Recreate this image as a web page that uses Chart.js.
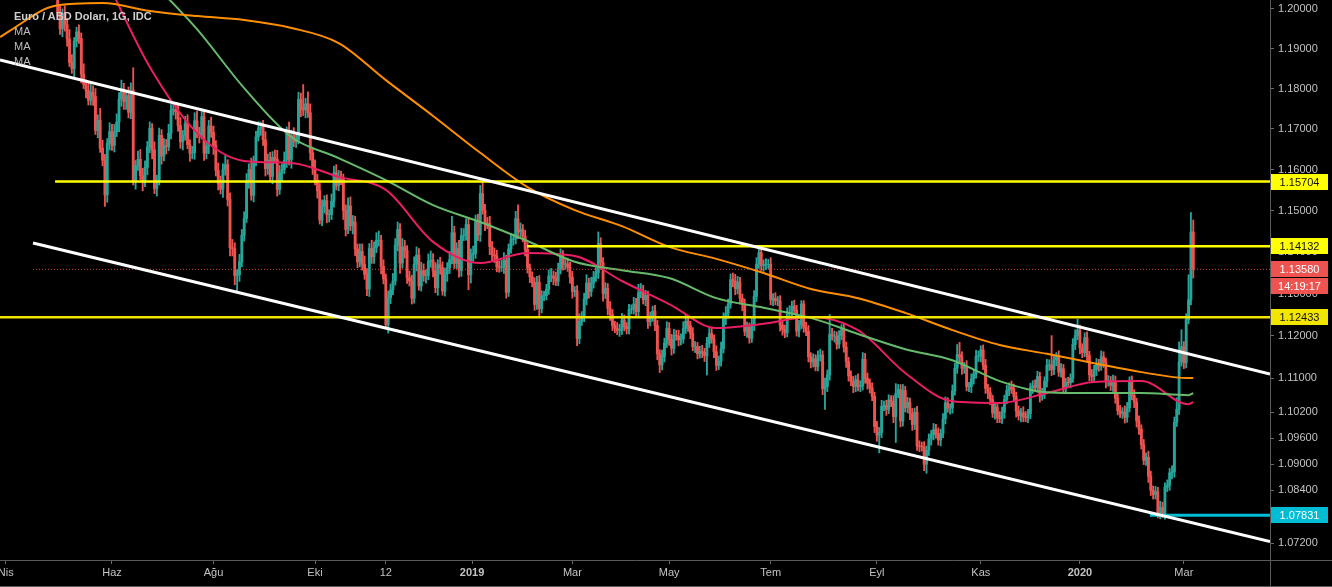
<!DOCTYPE html>
<html>
<head>
<meta charset="utf-8">
<title>Euro / ABD Doları, 1G</title>
<script src="https://cdn.jsdelivr.net/npm/chart.js@4.4.1/dist/chart.umd.min.js"></script>
<style>
  html, body { margin: 0; padding: 0; background: #000; }
  #wrap { position: relative; width: 1332px; height: 587px; }
  #legend { position: absolute; left: 14px; top: 9px; font: bold 11px 'Liberation Sans', Arial, sans-serif; color: #cfcfcf; line-height: 15px; }
  #legend .ma { font-weight: normal; color: #bdbdbd; }
</style>
</head>
<body>
<div id="wrap">
  <canvas id="chart" width="1332" height="587"></canvas>
  <div id="legend">
    <div>Euro / ABD Doları, 1G, IDC</div>
    <div class="ma">MA</div>
    <div class="ma">MA</div>
    <div class="ma">MA</div>
  </div>
</div>
<script>
'use strict';

// daily closes, 2 Apr 2018 .. 10 Mar 2020 (no bars on 25 Dec / 1 Jan)
// an FX daily bar opens at the previous close
var firstOpen = 1.2323;
var closes = [
  1.2302,1.2267,1.2276,1.2237,1.2281,
  1.2320,1.2359,1.2367,1.2326,1.2330,
  1.2381,1.2372,1.2374,1.2348,1.2288,
  1.2211,1.2235,1.2164,1.2101,1.2130,
  1.2079,1.1992,1.1950,1.1988,1.1960,
  1.1924,1.1865,1.1850,1.1918,1.1942,
  1.1925,1.1836,1.1810,1.1795,1.1771,
  1.1791,1.1780,1.1696,1.1721,1.1652,
  1.1623,1.1538,1.1664,1.1693,1.1659,
  1.1693,1.1717,1.1774,1.1799,1.1768,
  1.1782,1.1741,1.1796,1.1570,1.1610,
  1.1625,1.1585,1.1570,1.1605,1.1655,
  1.1701,1.1648,1.1553,1.1572,1.1684,
  1.1633,1.1658,1.1656,1.1689,1.1746,
  1.1748,1.1742,1.1708,1.1668,1.1684,
  1.1713,1.1661,1.1640,1.1641,1.1720,
  1.1690,1.1685,1.1730,1.1640,1.1657,
  1.1707,1.1691,1.1659,1.1598,1.1566,
  1.1552,1.1600,1.1612,1.1527,1.1410,
  1.1408,1.1343,1.1345,1.1376,1.1440,
  1.1481,1.1572,1.1600,1.1537,1.1621,
  1.1680,1.1700,1.1705,1.1673,1.1602,
  1.1622,1.1583,1.1630,1.1625,1.1551,
  1.1592,1.1600,1.1623,1.1689,1.1625,
  1.1683,1.1668,1.1673,1.1773,1.1750,
  1.1747,1.1762,1.1740,1.1641,1.1604,
  1.1574,1.1548,1.1477,1.1510,1.1524,
  1.1490,1.1490,1.1522,1.1592,1.1560,
  1.1580,1.1577,1.1500,1.1454,1.1511,
  1.1463,1.1472,1.1407,1.1376,1.1401,
  1.1370,1.1346,1.1311,1.1408,1.1388,
  1.1410,1.1428,1.1428,1.1365,1.1335,
  1.1226,1.1290,1.1309,1.1330,1.1416,
  1.1454,1.1373,1.1412,1.1403,1.1338,
  1.1330,1.1289,1.1370,1.1392,1.1318,
  1.1355,1.1343,1.1343,1.1377,1.1380,
  1.1354,1.1314,1.1369,1.1362,1.1306,
  1.1347,1.1362,1.1381,1.1446,1.1372,
  1.1408,1.1355,1.1439,1.1440,
  1.1466,1.1345,1.1393,1.1396,
  1.1473,1.1441,1.1541,1.1501,1.1469,
  1.1468,1.1413,1.1393,1.1390,1.1364,
  1.1363,1.1364,1.1380,1.1303,1.1407,
  1.1430,1.1431,1.1480,1.1448,1.1454,
  1.1438,1.1406,1.1361,1.1340,1.1326,
  1.1274,1.1327,1.1264,1.1295,1.1295,
  1.1310,1.1342,1.1342,1.1337,1.1329,
  1.1359,1.1391,1.1370,1.1371,1.1363,
  1.1339,1.1305,1.1307,1.1193,1.1234,
  1.1245,1.1287,1.1325,1.1305,1.1325,
  1.1339,1.1350,1.1420,1.1374,1.1300,
  1.1312,1.1265,1.1250,1.1224,1.1217,
  1.1212,1.1215,1.1237,1.1221,1.1216,
  1.1262,1.1263,1.1275,1.1257,1.1302,
  1.1306,1.1285,1.1296,1.1233,1.1244,
  1.1258,1.1224,1.1157,1.1131,1.1150,
  1.1182,1.1217,1.1191,1.1170,1.1201,
  1.1199,1.1190,1.1192,1.1217,1.1234,
  1.1224,1.1205,1.1174,1.1174,1.1157,
  1.1163,1.1160,1.1153,1.1182,1.1205,
  1.1192,1.1162,1.1130,1.1140,1.1169,
  1.1240,1.1253,1.1275,1.1333,1.1330,
  1.1311,1.1327,1.1289,1.1275,1.1210,
  1.1220,1.1194,1.1226,1.1293,1.1370,
  1.1398,1.1367,1.1369,1.1370,1.1370,
  1.1285,1.1288,1.1283,1.1283,1.1225,
  1.1215,1.1207,1.1252,1.1255,1.1270,
  1.1260,1.1211,1.1226,1.1275,1.1220,
  1.1210,1.1150,1.1138,1.1145,1.1127,
  1.1152,1.1154,1.1075,1.1080,1.1107,
  1.1203,1.1199,1.1199,1.1180,1.1200,
  1.1214,1.1173,1.1139,1.1105,1.1092,
  1.1080,1.1096,1.1080,1.1082,1.1144,
  1.1100,1.1088,1.1077,1.1057,1.0987,
  1.0967,1.0973,1.1034,1.1036,1.1027,
  1.1049,1.1045,1.1010,1.1064,1.1073,
  1.1000,1.1071,1.1031,1.1043,1.1017,
  1.0992,1.1020,1.0942,1.0941,1.0940,
  1.0900,1.0932,1.0958,1.0968,1.0980,
  1.0970,1.0956,1.0971,1.1005,1.1042,
  1.1030,1.1030,1.1070,1.1123,1.1155,
  1.1150,1.1123,1.1127,1.1080,1.1080,
  1.1098,1.1110,1.1151,1.1152,1.1166,
  1.1130,1.1076,1.1066,1.1050,1.1018,
  1.1032,1.1008,1.1006,1.1020,1.1050,
  1.1071,1.1079,1.1074,1.1057,1.1023,
  1.1012,1.1019,1.1010,1.1008,1.1017,
  1.1078,1.1082,1.1078,1.1104,1.1058,
  1.1064,1.1093,1.1130,1.1131,1.1120,
  1.1143,1.1150,1.1114,1.1122,1.1078,
  1.1090,1.1089,1.1100,1.1179,
  1.1200,1.1213,1.1171,1.1160,
  1.1195,1.1153,1.1108,1.1104,1.1120,
  1.1134,1.1128,1.1150,1.1137,1.1091,
  1.1094,1.1083,1.1093,1.1053,1.1024,
  1.1018,1.1021,1.1009,1.1031,1.1093,
  1.1059,1.1043,1.1000,1.0981,1.0945,
  1.0909,1.0916,1.0872,1.0840,1.0830,
  1.0837,1.0789,1.0801,1.0784,1.0847,
  1.0852,1.0880,1.0882,1.0997,1.1027,
  1.1138,1.1174,1.1136,1.1238,1.1285,
  1.1448,1.1358
];

// wick above / below the body, in pips
var wickUp = [
  18,22,15,20,12, 14,20,16,25,12, 16,22,12,18,24, 28,12,30,16,14,
  22,18,16,12,20, 16,24,20,10,12, 18,14,26,12,20, 24,16,20,14,30,
  20,14,12,22,18, 18,20,16,22,14, 14,22,18,56,12, 20,24,18,16,14,
  16,12,20,14,18, 14,18,16,22,14, 14,16,22,20,12, 18,22,12,16,20,
  24,14,20,16,12, 14,22,16,12,18, 18,14,22,12,16, 20,14,12,18,14,
  16,18,14,28,12, 14,18,12,16,20, 16,20,14,18,22, 18,14,20,16,28,
  14,20,16,18,16, 60,14,30,22,14, 20,14,18,16,12, 14,12,18,16,20,
  18,16,12,14,20, 22,16,14,12,18, 18,20,14,12,20, 14,18,22,12,16,
  12,16,14,18,16, 18,14,20,16,12, 16,14,18,20,16, 20,16,14,18,22,
  16,20,12,18,14, 14,12,20,40,16, 14,20,18,16, 14,16,14,18,
  16,18,20,29,14, 14,18,12,16,14, 14,16,18,12,12, 14,12,18,34,16,
  12,14,16,10,12, 12,14,16,12,10, 12,14,18,12,14, 14,16,12,10,14,
  12,14,10,12,18, 12,14,20,12,14, 14,12,28,14,12, 14,12,16,12,10,
  14,12,16,12,10, 12,10,16,14,20, 18,14,12,10,12, 12,14,12,10,16,
  12,16,14,12,14, 12,14,12,16,14, 12,10,14,12,10, 12,14,10,14,12,
  12,10,14,12,16, 14,16,12,14,16, 16,14,12,10,12, 12,10,16,14,16,
  14,14,12,14,12, 16,12,14,10,12, 12,10,14,16,12, 14,12,10,8,8,
  12,14,10,12,10, 12,14,10,20,12, 47,14,12,10,12, 12,14,12,10,12,
  12,10,14,12,16, 14,12,10,12,10, 12,12,14,10,12, 12,10,14,23,12,
  12,14,10,12,10, 12,10,14,12,10, 12,10,12,10,14, 12,14,10,12,14,
  12,10,14,12,24, 29,12,10,14,10, 12,10,14,12,10, 12,14,10,12,10,
  12,10,14,12,10, 12,10,14,12,10, 12,10,14,12,10, 10,12,14,12,10,
  12,10,14,12,69, 12,10,14,12,10, 10,12,10,14, 14,26,12,10,
  12,14,10,12,10, 12,10,14,12,10, 12,10,14,12,10, 12,10,14,12,10,
  12,14,10,12,10, 12,10,14,12,10, 12,10,14,12,10, 12,10,14,12,27,
  47,40,12,14,60, 47,29
];
var wickDown = [
  15,12,20,14,18, 18,10,22,14,16, 12,15,20,16,10, 10,20,8,24,18,
  12,10,14,20,16, 18,10,12,22,14, 12,22,10,18,12, 12,22,10,18,10,
  14,28,18,16,12, 16,12,24,18,20, 20,14,16,8,18, 12,10,22,12,18,
  14,22,12,18,10, 20,12,18,10,14, 12,18,14,16,20, 12,10,20,14,16,
  12,20,10,18,14, 18,12,22,14,16, 12,20,14,16,20, 18,22,42,16,12,
  14,10,18,12,16, 12,10,16,14,18, 14,12,18,10,16, 12,20,10,18,14,
  22,12,14,10,20, 14,20,12,18,16, 12,18,10,14,16, 20,18,12,14,10,
  12,14,22,16,10, 12,20,16,14,12, 14,12,16,18,16, 16,12,14,18,12,
  10,20,14,12,10, 14,24,12,18,14, 12,14,12,16,10, 12,14,18,10,14,
  14,12,18,16,10, 12,18,14,10,12, 12,16,14,12, 12,36,20,16,
  12,14,16,10,18, 12,20,14,16,12, 12,10,16,14,10, 10,14,12,16,12,
  14,16,12,14,10, 14,12,18,10,12, 10,12,14,16,10, 10,12,14,12,10,
  14,16,12,17,12, 10,12,14,16,12, 12,10,14,16,18, 12,16,14,12,10,
  10,14,12,10,12, 12,10,12,14,10, 12,10,14,16,10, 10,12,14,18,12,
  12,10,14,16,12, 10,14,12,10,12, 14,12,10,14,12, 10,12,14,46,10,
  10,14,12,10,12, 10,14,12,10,14, 14,12,14,16,10, 14,12,10,14,12,
  10,12,14,12,10, 12,14,10,12,14, 14,12,10,12,10, 10,12,14,10,12,
  10,12,14,12,10, 10,12,14,48,12, 12,10,14,12,10, 10,12,14,12,10,
  14,12,10,12,10, 12,14,12,10,14, 14,41,12,10,14, 10,12,14,60,10,
  14,12,10,12,14, 14,12,10,12,10, 15,21,12,14,12, 10,12,14,10,12,
  10,14,12,10,12, 12,14,12,10,12, 14,12,10,12,14, 10,12,14,12,10,
  14,12,10,12,14, 10,12,10,12,14, 10,14,12,10,12, 12,14,10,12,14,
  10,12,14,12,14, 12,14,10,12,14, 12,10,12,10, 12,10,14,12,
  10,12,14,12,10, 14,12,10,12,14, 10,12,14,12,10, 10,12,14,12,10,
  10,12,14,12,10, 10,12,14,12,10, 10,12,14,6,10, 10,12,14,12,10,
  12,10,14,12,10, 12,21
];

var maBars = [-3.4, 0, 20, 40, 60, 80, 100, 120, 140, 160, 180, 200, 220, 240, 260, 280, 300, 320, 340, 360, 380, 400, 420, 440, 460, 480, 500, 502];
var maSlow = [1.1929, 1.1942, 1.2008, 1.2015, 1.1995, 1.1982, 1.1972, 1.1952, 1.1914, 1.1821, 1.1732, 1.1641, 1.1557, 1.1501, 1.1462, 1.1412, 1.1383, 1.1349, 1.1311, 1.1289, 1.1254, 1.1213, 1.1178, 1.1157, 1.1135, 1.1114, 1.1100, 1.1100];
var maMid = [1.2335, 1.2330, 1.2280, 1.2200, 1.2075, 1.1949, 1.1801, 1.1680, 1.1628, 1.1574, 1.1513, 1.1472, 1.1426, 1.1376, 1.1356, 1.1337, 1.1289, 1.1266, 1.1242, 1.1204, 1.1168, 1.1142, 1.1093, 1.1067, 1.1065, 1.1065, 1.1060, 1.1065];
var maFast = [1.2340, 1.2335, 1.2290, 1.2090, 1.1854, 1.1690, 1.1621, 1.1616, 1.1582, 1.1550, 1.1424, 1.1373, 1.1397, 1.1390, 1.1330, 1.1275, 1.1218, 1.1228, 1.1244, 1.1213, 1.1112, 1.1046, 1.1042, 1.1065, 1.1091, 1.1093, 1.1039, 1.1044];

// drawings: channel (bar, price) ends, horizontal levels
var channelTopBars = [-3.43, 534.5];
var channelTopPrices = [1.18714, 1.11095];
var channelBotBars = [10.55, 534.5];
var channelBotPrices = [1.14213, 1.07233];
var levelPrices = [1.15704, 1.14132, 1.12433];
var levelFrom = [19.9, 219.8, -3.43];
var supportPrice = 1.07831;
var supportFrom = 483.6;
var lastPrice = 1.1358;
var countdown = '14:19:17';

// axes
var tickPos = [-1, 44, 87, 130, 160, 196.5, 239, 280, 323, 368, 412, 454, 498];
var tickText = ['Nis', 'Haz', 'Ağu', 'Eki', '12', '2019', 'Mar', 'May', 'Tem', 'Eyl', 'Kas', '2020', 'Mar'];
var priceTicks = [1.2, 1.19, 1.18, 1.17, 1.16, 1.15, 1.14, 1.13, 1.12, 1.11, 1.102, 1.096, 1.09, 1.084, 1.078, 1.072];

var xMin = -3.43, xMax = 534.5;
var yMin = 1.06816, yMax = 1.20228;

var upColor = '#26a69a', downColor = '#ef5350';
var fontFamily = "'Liberation Sans', Arial, sans-serif";

var bodies = [], wicks = [], colors = [];
for (var i = 0; i < closes.length; i++) {
    var o = i === 0 ? firstOpen : closes[i - 1];
    var c = closes[i];
    var hi = Math.max(o, c) + wickUp[i] / 10000;
    var lo = Math.min(o, c) - wickDown[i] / 10000;
    bodies.push({x: i, y: [o, c]});
    wicks.push({x: i, y: [lo, hi]});
    colors.push(c >= o ? upColor : downColor);
}

function pts(xs, ys) {
    return xs.map(function (x, k) { return {x: x, y: ys[k]}; });
}

function line(data, color, width, order, dash) {
    return {
        type: 'line', data: data, borderColor: color, borderWidth: width,
        pointRadius: 0, fill: false, order: order, borderDash: dash || [],
        cubicInterpolationMode: 'monotone'
    };
}

var tags = [
    {v: levelPrices[0], t: '1.15704', bg: '#ffff00', fg: '#111'},
    {v: levelPrices[1], t: '1.14132', bg: '#ffff00', fg: '#111'},
    {v: levelPrices[2], t: '1.12433', bg: '#f2e600', fg: '#111'},
    {v: supportPrice, t: '1.07831', bg: '#00bcd4', fg: '#fff'},
    {v: lastPrice, t: '1.13580', bg: '#ef5350', fg: '#fff'},
    {v: lastPrice, t: countdown, bg: '#ef5350', fg: '#fff', below: true}
];

var priceTags = {
    id: 'priceTags',
    afterDraw: function (chart) {
        var ctx = chart.ctx, ys = chart.scales.y, area = chart.chartArea;
        ctx.save();
        ctx.strokeStyle = '#5a5a5a';
        ctx.lineWidth = 1;
        ctx.beginPath();
        ctx.moveTo(area.right + 0.5, area.bottom);
        ctx.lineTo(area.right + 0.5, chart.height);
        ctx.moveTo(area.right, area.bottom + 0.5);
        ctx.lineTo(chart.width, area.bottom + 0.5);
        ctx.moveTo(0, chart.height - 0.5);
        ctx.lineTo(chart.width, chart.height - 0.5);
        ctx.stroke();

        ctx.font = '11px ' + fontFamily;
        ctx.textAlign = 'center';
        ctx.textBaseline = 'middle';
        tags.forEach(function (tg) {
            var y = Math.round(ys.getPixelForValue(tg.v)) + (tg.below ? 17 : 0);
            ctx.fillStyle = tg.bg;
            ctx.fillRect(area.right + 1, y - 8, 57, 16);
            ctx.fillStyle = tg.fg;
            ctx.fillText(tg.t, area.right + 29.5, y + 1);
        });
        ctx.restore();
    }
};

var datasets = [
    line(pts(channelTopBars, channelTopPrices), '#ffffff', 3, 0),
    line(pts(channelBotBars, channelBotPrices), '#ffffff', 3, 0),
    line(pts([levelFrom[0], xMax], [levelPrices[0], levelPrices[0]]), '#ffff00', 2.5, 0),
    line(pts([levelFrom[1], xMax], [levelPrices[1], levelPrices[1]]), '#ffff00', 2.5, 0),
    line(pts([levelFrom[2], xMax], [levelPrices[2], levelPrices[2]]), '#f2e600', 2.5, 0),
    line(pts([supportFrom, xMax], [supportPrice, supportPrice]), '#00bcd4', 3, 0),
    line(pts([10.55, xMax], [lastPrice, lastPrice]), '#d9463f', 1, 0, [1, 2]),
    line(pts(maBars, maSlow), '#ff8f00', 2, 1),
    line(pts(maBars, maMid), '#66bb6a', 2, 1),
    line(pts(maBars, maFast), '#e91e63', 2, 1),
    {
        type: 'bar', data: bodies, backgroundColor: colors, borderWidth: 0,
        barThickness: 2.2, grouped: false, order: 2
    },
    {
        type: 'bar', data: wicks, backgroundColor: colors, borderWidth: 0,
        barThickness: 1.2, grouped: false, order: 3
    }
];

new Chart(document.getElementById('chart'), {
    type: 'bar',
    data: {datasets: datasets},
    options: {
        responsive: false,
        animation: false,
        devicePixelRatio: 1,
        events: [],
        layout: {padding: 0},
        plugins: {legend: {display: false}, tooltip: {enabled: false}},
        scales: {
            x: {
                type: 'linear', min: xMin, max: xMax, offset: false,
                grid: {drawOnChartArea: false, offset: false, color: '#6b6b6b', tickLength: 4},
                border: {color: '#5a5a5a'},
                afterBuildTicks: function (s) {
                    s.ticks = tickPos.map(function (v) { return {value: v}; });
                },
                afterFit: function (s) {
                    s.height = 27; s.paddingLeft = 0; s.paddingRight = 0;
                },
                ticks: {
                    autoSkip: false, maxRotation: 0, color: '#c3c3c3', padding: 2,
                    font: function (c) {
                        return {family: fontFamily, size: 11, weight: /^\d{4}$/.test(tickText[c.index]) ? 'bold' : 'normal'};
                    },
                    callback: function (v, k) { return tickText[k]; }
                }
            },
            y: {
                type: 'logarithmic', position: 'right', min: yMin, max: yMax, bounds: 'data',
                grid: {drawOnChartArea: false, color: '#6b6b6b', tickLength: 4},
                border: {color: '#5a5a5a'},
                afterBuildTicks: function (s) {
                    s.ticks = priceTicks.map(function (v) { return {value: v}; });
                },
                afterFit: function (s) {
                    s.width = 62; s.paddingTop = 0; s.paddingBottom = 0;
                },
                ticks: {
                    autoSkip: false, color: '#c3c3c3', padding: 4,
                    font: {family: fontFamily, size: 11},
                    callback: function (v) { return Number(v).toFixed(5); }
                }
            }
        }
    },
    plugins: [priceTags]
});
</script>
</body>
</html>
